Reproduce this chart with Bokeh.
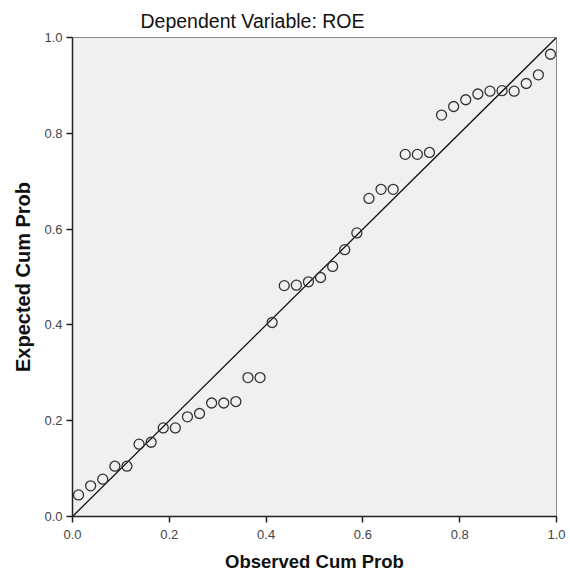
from bokeh.plotting import figure
from bokeh.models import Range1d, FixedTicker, PrintfTickFormatter
from bokeh.embed import file_html
from bokeh.resources import INLINE

# Observed cumulative probabilities (x) and expected cumulative probabilities (y)
observed_cum_prob = [0.0125, 0.0375, 0.0625, 0.0875, 0.1125, 0.1375, 0.1625, 0.1875,
                     0.2125, 0.2375, 0.2625, 0.2875, 0.3125, 0.3375, 0.3625, 0.3875,
                     0.4125, 0.4375, 0.4625, 0.4875, 0.5125, 0.5375, 0.5625, 0.5875,
                     0.6125, 0.6375, 0.6625, 0.6875, 0.7125, 0.7375, 0.7625, 0.7875,
                     0.8125, 0.8375, 0.8625, 0.8875, 0.9125, 0.9375, 0.9625, 0.9875]
expected_cum_prob = [0.045, 0.064, 0.078, 0.105, 0.105, 0.151, 0.155, 0.185,
                     0.185, 0.208, 0.215, 0.237, 0.237, 0.240, 0.290, 0.290,
                     0.405, 0.482, 0.483, 0.490, 0.499, 0.522, 0.557, 0.592,
                     0.664, 0.683, 0.683, 0.756, 0.756, 0.760, 0.838, 0.856,
                     0.870, 0.882, 0.888, 0.889, 0.888, 0.904, 0.922, 0.965]
ref_line_x = [0.0, 1.0]
ref_line_y = [0.0, 1.0]
tick_values = [0.0, 0.2, 0.4, 0.6, 0.8, 1.0]

title_text = "Dependent Variable: ROE"
x_label = "Observed Cum Prob"
y_label = "Expected Cum Prob"

FONT = "Liberation Sans"

p = figure(
    frame_width=484, frame_height=479,
    min_border_left=72, min_border_right=14, min_border_top=37, min_border_bottom=57,
    x_range=Range1d(0, 1), y_range=Range1d(0, 1),
    output_backend="svg", toolbar_location=None,
    border_fill_color="#ffffff",
    title=title_text,
)
p.background_fill_color = "#f0f0f0"
p.outline_line_color = "#8a8a8a"
p.outline_line_width = 1

p.title.text_font = FONT
p.title.text_font_size = "19.5px"
p.title.text_font_style = "normal"
p.title.text_color = "#111111"
p.title.align = "left"
p.title.offset = 68
p.title.standoff = 12

p.xgrid.visible = False
p.ygrid.visible = False

for ax, lab in ((p.xaxis[0], x_label), (p.yaxis[0], y_label)):
    ax.ticker = FixedTicker(ticks=tick_values)
    ax.formatter = PrintfTickFormatter(format="%.1f")
    ax.axis_label = lab
    ax.axis_label_text_font = FONT
    ax.axis_label_text_font_style = "bold"
    ax.axis_label_text_color = "#111111"
    ax.major_label_text_font = FONT
    ax.major_label_text_font_size = "13px"
    ax.major_label_text_color = "#444444"
    ax.major_tick_in = 0
    ax.major_tick_out = 6
    ax.minor_tick_line_color = None
    ax.major_tick_line_color = "#222222"
    ax.major_tick_line_width = 1.5
    ax.axis_line_color = "#222222"
    ax.axis_line_width = 1.5

p.xaxis[0].axis_label_text_font_size = "18.5px"
p.yaxis[0].axis_label_text_font_size = "20px"
p.xaxis[0].major_label_standoff = 7
p.xaxis[0].axis_label_standoff = 9
p.yaxis[0].major_label_standoff = 4
p.yaxis[0].axis_label_standoff = 7

p.line(ref_line_x, ref_line_y, line_color="#111111", line_width=1.3)
p.scatter(observed_cum_prob, expected_cum_prob, marker="circle", size=10,
          fill_color=None, line_color="#333333", line_width=1.3)

open("out.html", "w").write(file_html(p, INLINE))
